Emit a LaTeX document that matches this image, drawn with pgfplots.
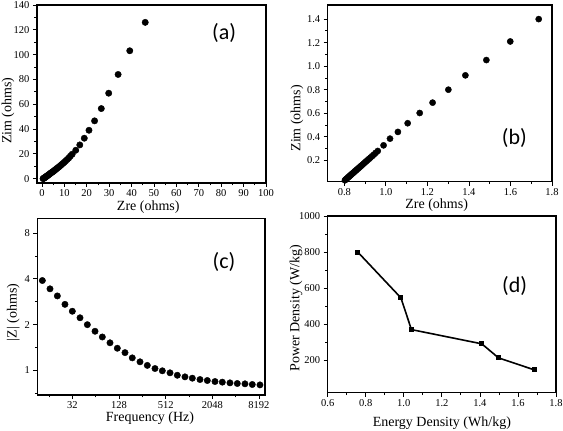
\documentclass[border=0pt]{standalone}
\usepackage{fontspec}
\setmainfont{Liberation Serif}
\newfontfamily\panelfont{Carlito}
\usepackage{pgfplots}
\pgfplotsset{compat=1.18}
\pgfplotsset{
  every axis/.append style={
    scale only axis,
    anchor=south west,
    axis line style={line width=1.1pt},
    every tick/.style={black, line width=0.8pt},
    tick align=outside,
    xtick pos=left, ytick pos=left,
    major tick length=4pt, minor tick length=2.5pt,
    tick label style={font=\fontsize{10.5}{12}\selectfont},
    xticklabel style={yshift=1pt},
    label style={font=\fontsize{14}{16}\selectfont},
    /pgf/number format/assume math mode=true,
    /pgf/number format/1000 sep={},
  },
  dots/.style={only marks, mark=*, mark size=3.2pt, mark options={fill=black, draw=black}},
}
\newcommand{\panel}[1]{{\panelfont\fontsize{22}{26}\selectfont #1}}
\begin{document}
\begin{tikzpicture}
\useasboundingbox (0,0) rectangle (563pt,431pt);
% (a)
\begin{axis}[at={(37pt,248pt)}, width=229pt, height=178pt,
  xmin=-2.2, xmax=100, ymin=-3.5, ymax=140,
  xtick={0,10,...,100}, ytick={0,20,...,140}, minor tick num=1,
  xlabel={Zre (ohms)}, ylabel={Zim (ohms)},
  xlabel style={at={(axis description cs:0.486,-0.137)}, anchor=center},
  ylabel style={at={(axis description cs:-0.127,0.406)}, anchor=center},
]
\addplot[dots] coordinates {
(0.5,0.0)(0.7,0.2)(0.9,0.4)(1.1,0.6)(1.3,0.9)(1.5,1.2)(1.8,1.5)(2.0,1.9)(2.3,2.2)
(2.6,2.6)(2.9,3.0)(3.2,3.4)(3.6,4.0)(3.9,4.4)(4.2,4.8)(4.6,5.3)(4.9,5.7)(5.3,6.2)
(5.6,6.7)(6.0,7.2)(6.4,7.8)(6.8,8.4)(7.3,9.1)(7.8,9.8)(8.3,10.6)(8.8,11.4)(9.4,12.3)
(10.0,13.3)(10.6,14.3)(11.3,15.5)(12.0,16.7)(12.7,18.2)(13.5,19.7)(15.1,22.9)(16.9,27.2)(18.9,32.6)
(21.0,39.0)(23.5,46.6)(26.5,56.5)(29.8,68.9)(34.0,84.0)(39.2,103.1)(46.1,126.0)
};
\node at (axis description cs:0.817,0.843) {\panel{(a)}};
\end{axis}
% (b)
\begin{axis}[at={(327.7pt,249.3pt)}, width=224.3pt, height=176.7pt,
  xmin=0.72, xmax=1.8, ymin=0.018, ymax=1.52,
  xtick={0.8,1.0,...,1.81}, ytick={0.2,0.4,...,1.41}, minor tick num=1,
  xticklabel style={/pgf/number format/.cd, fixed, fixed zerofill, precision=1},
  yticklabel style={/pgf/number format/.cd, fixed, fixed zerofill, precision=1},
  xlabel={Zre (ohms)}, ylabel={Zim (ohms)},
  xlabel style={at={(axis description cs:0.486,-0.132)}, anchor=center},
  ylabel style={at={(axis description cs:-0.137,0.359)}, anchor=center},
]
\addplot[dots, mark size=3.1pt] coordinates {
(0.803,0.030)(0.806,0.036)(0.810,0.042)(0.814,0.048)(0.818,0.055)(0.822,0.060)
(0.825,0.066)(0.829,0.071)(0.832,0.077)(0.836,0.083)(0.840,0.089)(0.844,0.095)
(0.848,0.101)(0.852,0.108)(0.857,0.115)(0.861,0.122)(0.866,0.129)(0.871,0.137)
(0.876,0.145)(0.881,0.153)(0.887,0.162)(0.893,0.171)(0.899,0.181)(0.905,0.191)
(0.912,0.201)(0.919,0.212)(0.926,0.223)(0.934,0.235)(0.942,0.248)(0.951,0.263)
(0.961,0.279)(0.989,0.327)(1.020,0.384)
(1.058,0.441)(1.105,0.515)(1.163,0.602)(1.225,0.690)(1.301,0.800)(1.383,0.922)
(1.484,1.052)(1.599,1.210)(1.736,1.400)
};
\node at (axis description cs:0.832,0.249) {\panel{(b)}};
\end{axis}
% (c)
\begin{axis}[at={(37.3pt,36pt)}, width=227.7pt, height=176.7pt,
  xmode=log, ymode=log,
  xmin=11.3, xmax=9800, ymin=0.69, ymax=10,
  xtick={32,128,512,2048,8192}, xticklabels={32,128,512,2048,8192},
  minor xtick={16,64,256,1024,4096},
  ytick={1,2,4,8}, yticklabels={1,2,4,8},
  minor ytick={0.7071,1.4142,2.8284,5.6569},
  xlabel={Frequency (Hz)}, ylabel={|Z| (ohms)},
  xlabel style={at={(axis description cs:0.495,-0.132)}, anchor=center},
  ylabel style={at={(axis description cs:-0.105,0.467)}, anchor=center},
]
\addplot[dots, mark size=3.2pt] coordinates {
(13.13,3.90)(16.48,3.44)(20.5,3.09)(25.7,2.72)(32.0,2.45)(40.2,2.22)
(50.0,2.00)(62.8,1.81)(78.0,1.66)(98.0,1.52)(121.8,1.40)(153,1.31)
(190,1.21)(239,1.14)(297,1.08)(373,1.03)(464,0.995)(583,0.965)
(724,0.930)(909,0.908)(1131,0.890)(1420,0.872)(1766,0.859)(2217,0.846)
(2757,0.838)(3461,0.829)(4303,0.821)(5405,0.817)(6719,0.809)(8438,0.804)
};
\node at (axis description cs:0.82,0.754) {\panel{(c)}};
\end{axis}
% (d)
\begin{axis}[at={(327.7pt,38.3pt)}, width=228.3pt, height=176.7pt,
  xmin=0.6, xmax=1.8, ymin=20, ymax=1000,
  xtick={0.6,0.8,...,1.81}, ytick={200,400,...,1000}, minor tick num=1,
  xticklabel style={/pgf/number format/.cd, fixed, fixed zerofill, precision=1},
  xlabel={Energy Density (Wh/kg)}, ylabel={Power Density (W/kg)},
  xlabel style={at={(axis description cs:0.5,-0.174)}, anchor=center},
  ylabel style={at={(axis description cs:-0.139,0.478)}, anchor=center},
]
\addplot[black, line width=1.6pt, mark=square*, mark size=1.7pt, mark options={solid}] coordinates {
(0.758,800)(0.985,546)(1.040,370)(1.410,291)(1.498,213)(1.688,146)
};
\node at (axis description cs:0.819,0.604) {\panel{(d)}};
\end{axis}
\end{tikzpicture}
\end{document}
